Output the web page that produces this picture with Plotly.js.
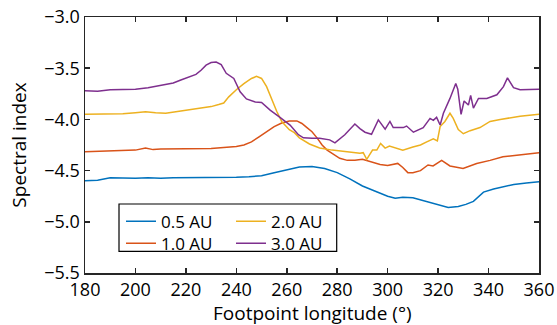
<!DOCTYPE html>
<html><head><meta charset="utf-8">
<script src="https://cdn.plot.ly/plotly-3.0.1.min.js"></script>
<style>html,body{margin:0;padding:0;background:#fff;}#chart{width:557px;height:325px;}</style>
</head><body><div id="chart"></div>
<script>
// Footpoint longitude (deg) and spectral index per series
var lon05 = [180,185,190,195,200,205,210,215,220,225,230,235,240,245,250,255,260,265,270,275,280,285,290,295,300,303,306,310,315,320,324,328,331,334,336,338,342,346,350,355,360];
var val05 = [-4.60,-4.595,-4.57,-4.575,-4.575,-4.57,-4.575,-4.57,-4.57,-4.57,-4.57,-4.565,-4.565,-4.56,-4.55,-4.52,-4.49,-4.465,-4.46,-4.48,-4.52,-4.58,-4.65,-4.70,-4.75,-4.77,-4.76,-4.765,-4.80,-4.83,-4.86,-4.85,-4.83,-4.80,-4.75,-4.71,-4.68,-4.66,-4.635,-4.62,-4.61];

var lon10 = [180,185,190,195,200,204,207,210,215,220,225,230,235,240,243,246,249,252,255,258,261,264,266,268,270,272,274,276,278,281,284,287,290,294,297,300,302,304,306,308,310,313,316,318,321.4,324.7,329.9,335.3,340.6,345.7,351.2,360];
var val10 = [-4.315,-4.31,-4.305,-4.30,-4.30,-4.28,-4.295,-4.29,-4.29,-4.29,-4.29,-4.285,-4.275,-4.265,-4.25,-4.22,-4.17,-4.12,-4.07,-4.035,-4.015,-4.015,-4.04,-4.08,-4.12,-4.18,-4.25,-4.30,-4.33,-4.38,-4.40,-4.40,-4.39,-4.42,-4.44,-4.45,-4.44,-4.43,-4.47,-4.52,-4.52,-4.50,-4.445,-4.455,-4.40,-4.455,-4.48,-4.43,-4.40,-4.365,-4.35,-4.325];

var lon20 = [180,185,190,195,200,204,208,212,216,220,225,230,233,235,237,240,243,246,248,250,252,254,256,258,261,263,265,269,273,278,285,289,290.3,291.7,294,295.7,297.2,299,300.7,303.6,306,310,313,315.5,318.1,319.7,320.8,322.7,324.7,326,328,330,332.7,336.6,340.6,344.6,352.5,360];
var val20 = [-3.95,-3.95,-3.945,-3.945,-3.935,-3.925,-3.935,-3.94,-3.925,-3.91,-3.895,-3.875,-3.855,-3.84,-3.78,-3.71,-3.65,-3.60,-3.58,-3.60,-3.68,-3.80,-3.92,-4.02,-4.10,-4.13,-4.18,-4.24,-4.28,-4.30,-4.315,-4.33,-4.325,-4.39,-4.30,-4.30,-4.235,-4.28,-4.26,-4.28,-4.30,-4.27,-4.25,-4.22,-4.19,-4.21,-4.07,-4.02,-3.94,-3.99,-4.10,-4.14,-4.11,-4.08,-4.02,-4.00,-3.97,-3.95];

var lon30 = [180,185,190,195,200,205,210,215,218,221,224,226,228,230,232,234,236,239,241.5,244,247.5,250,253.4,257.3,261.3,264.6,266.6,270,273,277,279.1,283,287,289,291,293.6,296.3,299,300.9,302.2,306.2,307.5,310.2,314.1,316.8,318.1,319.4,320.8,322.1,324.7,327,327.8,329.1,330.3,332,332.9,334,336,339.3,343.3,345.9,347.5,349.9,352.5,356.5,360];
var val30 = [-3.72,-3.725,-3.71,-3.71,-3.705,-3.69,-3.67,-3.645,-3.615,-3.585,-3.56,-3.52,-3.47,-3.445,-3.44,-3.465,-3.55,-3.60,-3.73,-3.80,-3.83,-3.835,-3.91,-3.98,-4.055,-4.15,-4.18,-4.185,-4.185,-4.20,-4.23,-4.15,-4.045,-4.09,-4.125,-4.145,-4.005,-4.095,-4.02,-4.08,-4.08,-4.065,-4.125,-4.08,-3.99,-4.01,-3.98,-4.055,-3.94,-3.795,-3.65,-3.705,-3.95,-3.82,-3.86,-3.765,-3.89,-3.795,-3.795,-3.76,-3.68,-3.595,-3.69,-3.71,-3.71,-3.705];

var seriesNames = ['0.5 AU','1.0 AU','2.0 AU','3.0 AU'];
var seriesColors = ['#0072BD','#D95319','#EDB120','#7E2F8E'];
var xTicks = [180,200,220,240,260,280,300,320,340,360];
var yTicks = [-3.0,-3.5,-4.0,-4.5,-5.0,-5.5];
var xTitle = 'Footpoint longitude (°)';
var yTitle = 'Spectral index';

var FONT = 'Open Sans, Noto Sans, sans-serif';
var AX = '#262626';
var xs = [lon05, lon10, lon20, lon30];
var ys = [val05, val10, val20, val30];
var legendIds = ['legend','legend2','legend3','legend4'];
var traces = xs.map(function(x,i){
  return {x:x, y:ys[i], type:'scatter', mode:'lines', name:seriesNames[i],
    legend:legendIds[i], line:{color:seriesColors[i], width:1.5}};
});

var axisCommon = {showgrid:false, zeroline:false, showline:true, mirror:'ticks',
  linecolor:AX, linewidth:1.5, ticks:'inside', ticklen:5, tickwidth:1.5, tickcolor:AX,
  tickfont:{family:FONT, size:18, color:'#000'}};

function leg(x, y){
  return {x:x, xanchor:'left', y:y, yanchor:'top', bgcolor:'rgba(0,0,0,0)',
    borderwidth:0, font:{family:FONT, size:17, color:'#000'}, tracegroupgap:0};
}
var colX = [0.0793, 0.3216];
var rowY = [0.271, 0.1848];

var layout = {
  width:557, height:325,
  margin:{l:85, r:18, t:17, b:52, pad:0},
  paper_bgcolor:'#fff', plot_bgcolor:'#fff',
  showlegend:true,
  xaxis:Object.assign({}, axisCommon, {range:[180,360], tickvals:xTicks}),
  yaxis:Object.assign({}, axisCommon, {range:[-5.5,-3.0], tickvals:yTicks, tickformat:'.1f',
    title:{text:yTitle, font:{family:FONT, size:19, color:'#000'}, standoff:12}}),
  annotations:[{text:xTitle, xref:'paper', yref:'paper', x:0.5, xanchor:'center',
    y:-0.156, yanchor:'middle', showarrow:false, font:{family:FONT, size:19, color:'#000'}}],
  legend:leg(colX[0], rowY[0]),
  legend2:leg(colX[0], rowY[1]),
  legend3:leg(colX[1], rowY[0]),
  legend4:leg(colX[1], rowY[1]),
  shapes:[{type:'rect', xref:'paper', yref:'paper', x0:0.0749, x1:0.5544, y0:0.0848, y1:0.2695,
    line:{color:'#000', width:1.2}, fillcolor:'#fff', layer:'above'}]
};
Plotly.newPlot('chart', traces, layout, {displayModeBar:false, staticPlot:true});
</script></body></html>
